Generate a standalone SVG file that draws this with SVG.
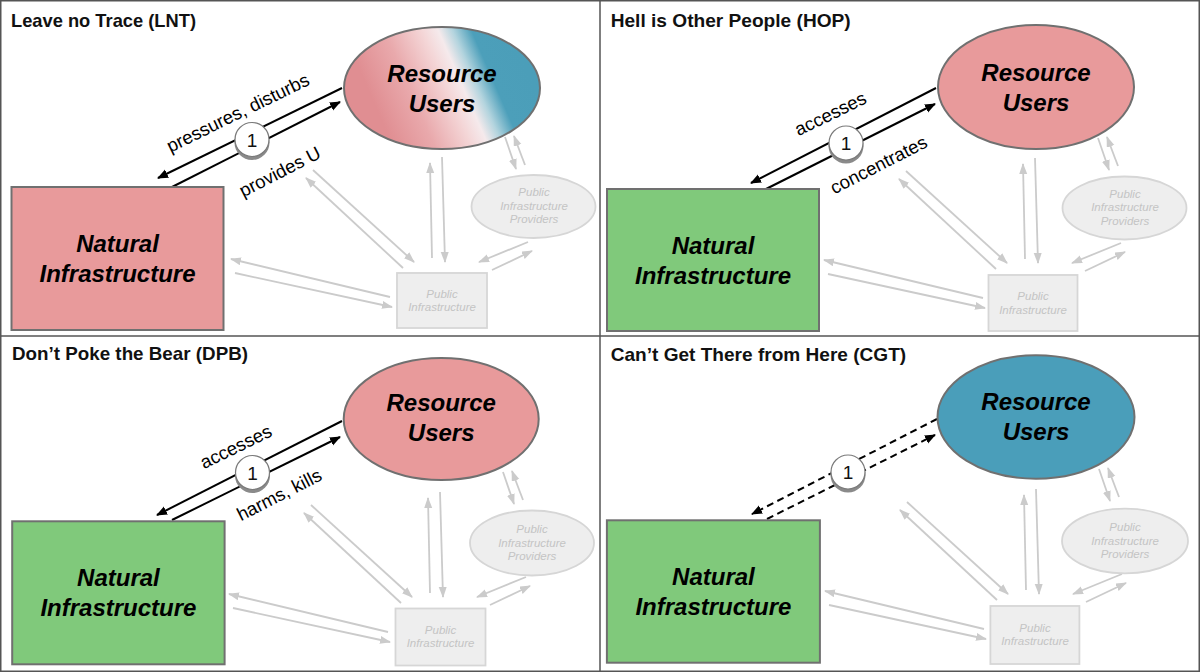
<svg xmlns="http://www.w3.org/2000/svg" width="1200" height="672" viewBox="0 0 1200 672">
<style>
.title{font-family:"Liberation Sans",Arial,sans-serif;font-weight:bold;font-size:18.5px;fill:#111}
.nt{font-family:"Liberation Sans",Arial,sans-serif;font-weight:bold;font-style:italic;font-size:24px;text-anchor:middle;fill:#000}
.lbl{font-family:"Liberation Sans",Arial,sans-serif;font-size:18.5px;text-anchor:middle;fill:#000}
.one{font-family:"Liberation Sans",Arial,sans-serif;font-size:19px;text-anchor:middle;fill:#111}
.gt{font-family:"Liberation Sans",Arial,sans-serif;font-style:italic;font-size:11.5px;text-anchor:middle;fill:#c4c4c4}
.node{stroke:#707070;stroke-width:2}
.gnode{fill:#eeeeee;stroke:#d6d6d6;stroke-width:1.8}
.blk{stroke:#000;stroke-width:2;fill:none;marker-end:url(#ah)}
.dash{stroke-dasharray:7 4.5}
.gry{stroke:#cbcbcb;stroke-width:1.8;fill:none;marker-end:url(#gh)}
.pink{fill:#e89a9b}
.green{fill:#80c97b}
.blue{fill:#4a9eba}
.frame{stroke:#555;stroke-width:1.5;fill:none}
</style>
<defs>
<marker id="ah" markerUnits="userSpaceOnUse" markerWidth="12" markerHeight="10" refX="10" refY="4.5" orient="auto">
<path d="M0,0 L11,4.5 L0,9 z" fill="#000"/>
</marker>
<marker id="gh" markerUnits="userSpaceOnUse" markerWidth="12" markerHeight="9" refX="10" refY="4" orient="auto">
<path d="M0,0 L11,4 L0,8 z" fill="#cbcbcb"/>
</marker>
<linearGradient id="mixgrad" gradientUnits="userSpaceOnUse" x1="385" y1="128" x2="560" y2="52">
<stop offset="0" stop-color="#e08e92"/>
<stop offset="0.2" stop-color="#e9a9ac"/>
<stop offset="0.38" stop-color="#f4d6d7"/>
<stop offset="0.46" stop-color="#f5eaec"/>
<stop offset="0.53" stop-color="#b3d4de"/>
<stop offset="0.62" stop-color="#4c9fba"/>
<stop offset="1" stop-color="#4a9db8"/>
</linearGradient>
</defs>
<rect width="1200" height="672" fill="#fff"/>

<!-- ===== Panel LNT ===== -->
<g id="panel-lnt">
<text class="title" x="11" y="27" textLength="185" lengthAdjust="spacingAndGlyphs">Leave no Trace (LNT)</text>
<g id="lnt-connectors">
<path class="gry" d="M432,258 L430,163"/>
<path class="gry" d="M442,157 L445,262"/>
<path class="gry" d="M505,137 L516,169"/>
<path class="gry" d="M525,165 L514,136"/>
<path class="gry" d="M528,242 L479,262"/>
<path class="gry" d="M492,270 L532,251"/>
<path class="gry" d="M403,268 L306,178"/>
<path class="gry" d="M313,170 L414,262"/>
<path class="gry" d="M390,297 L231,259"/>
<path class="gry" d="M235,273 L392,307"/>
<path class="blk" d="M342,88 L158,178"/>
<path class="blk" d="M172,187 L340,102"/>
<text class="lbl" x="238" y="119" transform="rotate(-26 238 113)">pressures, disturbs</text>
<text class="lbl" x="280" y="178" transform="rotate(-27 280 172)">provides U</text>
</g>
<g id="lnt-badge">
<circle cx="252" cy="142.5" r="17.5" fill="#8a8a8a"/>
<circle cx="252" cy="139.5" r="17" fill="#fff" stroke="#7a7a7a" stroke-width="1.2"/>
<text class="one" x="252" y="146.5">1</text>
</g>
<g id="lnt-resource-users">
<ellipse class="node" cx="442" cy="88" rx="98" ry="61" fill="url(#mixgrad)"/>
<text class="nt" x="442" y="82">Resource</text>
<text class="nt" x="442" y="112">Users</text>
</g>
<g id="lnt-natural-infrastructure">
<rect class="node pink" x="11.5" y="187" width="212" height="143"/>
<text class="nt" x="117.5" y="252">Natural</text>
<text class="nt" x="117.5" y="282">Infrastructure</text>
</g>
<g id="lnt-providers">
<ellipse class="gnode" cx="533.5" cy="206.5" rx="62" ry="31.5"/>
<text class="gt" x="534" y="196">Public</text>
<text class="gt" x="534" y="209.5">Infrastructure</text>
<text class="gt" x="534" y="223">Providers</text>
</g>
<g id="lnt-public-infrastructure">
<rect class="gnode" x="397" y="273" width="90" height="55"/>
<text class="gt" x="442" y="297.5">Public</text>
<text class="gt" x="442" y="311">Infrastructure</text>
</g>
</g>

<!-- ===== Panel HOP ===== -->
<g id="panel-hop" transform="translate(593,1)">
<text class="title" x="17.7" y="25.7" textLength="240" lengthAdjust="spacingAndGlyphs">Hell is Other People (HOP)</text>
<g id="hop-connectors">
<path class="gry" d="M432,258 L430,163"/>
<path class="gry" d="M442,157 L445,262"/>
<path class="gry" d="M505,137 L516,169"/>
<path class="gry" d="M525,165 L514,136"/>
<path class="gry" d="M528,242 L479,262"/>
<path class="gry" d="M492,270 L532,251"/>
<path class="gry" d="M403,268 L306,178"/>
<path class="gry" d="M313,170 L414,262"/>
<path class="gry" d="M390,297 L231,259"/>
<path class="gry" d="M235,273 L392,307"/>
<path class="blk" d="M343,87 L158,182"/>
<path class="blk" d="M173,188 L342,103"/>
<text class="lbl" x="237.6" y="119" transform="rotate(-26 237.6 113)">accesses</text>
<text class="lbl" x="285.8" y="170" transform="rotate(-27 285.8 164)">concentrates</text>
</g>
<g id="hop-badge">
<circle cx="253" cy="145" r="17.5" fill="#8a8a8a"/>
<circle cx="253" cy="142" r="17" fill="#fff" stroke="#7a7a7a" stroke-width="1.2"/>
<text class="one" x="253" y="149">1</text>
</g>
<g id="hop-resource-users">
<ellipse class="node pink" cx="443" cy="86" rx="98" ry="62"/>
<text class="nt" x="443" y="80">Resource</text>
<text class="nt" x="443" y="110">Users</text>
</g>
<g id="hop-natural-infrastructure">
<rect class="node green" x="14" y="188" width="212" height="142"/>
<text class="nt" x="120" y="253">Natural</text>
<text class="nt" x="120" y="283">Infrastructure</text>
</g>
<g id="hop-providers">
<ellipse class="gnode" cx="531.5" cy="207" rx="62" ry="31.5"/>
<text class="gt" x="532" y="196.5">Public</text>
<text class="gt" x="532" y="210">Infrastructure</text>
<text class="gt" x="532" y="223.5">Providers</text>
</g>
<g id="hop-public-infrastructure">
<rect class="gnode" x="395.5" y="274" width="89" height="56"/>
<text class="gt" x="440" y="299">Public</text>
<text class="gt" x="440" y="312.5">Infrastructure</text>
</g>
</g>

<!-- ===== Panel DPB ===== -->
<g id="panel-dpb" transform="translate(0,333)">
<text class="title" x="12" y="27" textLength="236" lengthAdjust="spacingAndGlyphs">Don’t Poke the Bear (DPB)</text>
<g id="dpb-connectors">
<path class="gry" d="M430,260 L428,165"/>
<path class="gry" d="M440,159 L443,264"/>
<path class="gry" d="M503,139 L514,171"/>
<path class="gry" d="M523,167 L512,138"/>
<path class="gry" d="M526,244 L477,264"/>
<path class="gry" d="M490,272 L530,253"/>
<path class="gry" d="M401,270 L304,180"/>
<path class="gry" d="M311,172 L412,264"/>
<path class="gry" d="M388,299 L229,261"/>
<path class="gry" d="M233,275 L390,309"/>
<path class="blk" d="M342,88 L157,182"/>
<path class="blk" d="M172,187 L340,104"/>
<text class="lbl" x="236" y="120" transform="rotate(-26 236 114)">accesses</text>
<text class="lbl" x="279.4" y="168" transform="rotate(-27 279.4 162)">harms, kills</text>
</g>
<g id="dpb-badge">
<circle cx="252.5" cy="142.5" r="17.5" fill="#8a8a8a"/>
<circle cx="252.5" cy="139.5" r="17" fill="#fff" stroke="#7a7a7a" stroke-width="1.2"/>
<text class="one" x="252.5" y="146.5">1</text>
</g>
<g id="dpb-resource-users">
<ellipse class="node pink" cx="441.2" cy="86" rx="97.5" ry="61"/>
<text class="nt" x="441.2" y="78">Resource</text>
<text class="nt" x="441.2" y="108">Users</text>
</g>
<g id="dpb-natural-infrastructure">
<rect class="node green" x="12.2" y="188.3" width="212.4" height="143"/>
<text class="nt" x="118.4" y="253">Natural</text>
<text class="nt" x="118.4" y="283">Infrastructure</text>
</g>
<g id="dpb-providers">
<ellipse class="gnode" cx="532" cy="210" rx="62" ry="32.5"/>
<text class="gt" x="532" y="200">Public</text>
<text class="gt" x="532" y="213.5">Infrastructure</text>
<text class="gt" x="532" y="227">Providers</text>
</g>
<g id="dpb-public-infrastructure">
<rect class="gnode" x="395.5" y="275.5" width="90" height="57"/>
<text class="gt" x="440.5" y="300.5">Public</text>
<text class="gt" x="440.5" y="314">Infrastructure</text>
</g>
</g>

<!-- ===== Panel CGT ===== -->
<g id="panel-cgt" transform="translate(594,332)">
<text class="title" x="16.7" y="28.5" textLength="295.5" lengthAdjust="spacingAndGlyphs">Can’t Get There from Here (CGT)</text>
<g id="cgt-connectors">
<path class="gry" d="M432,258 L430,163"/>
<path class="gry" d="M442,157 L445,262"/>
<path class="gry" d="M505,137 L516,169"/>
<path class="gry" d="M525,165 L514,136"/>
<path class="gry" d="M528,242 L479,262"/>
<path class="gry" d="M492,270 L532,251"/>
<path class="gry" d="M403,268 L306,178"/>
<path class="gry" d="M313,170 L414,262"/>
<path class="gry" d="M390,297 L231,259"/>
<path class="gry" d="M235,273 L392,307"/>
<path class="blk dash" d="M343,87 L158,182"/>
<path class="blk dash" d="M173,187 L341,103"/>
</g>
<g id="cgt-badge">
<circle cx="254" cy="143" r="17.5" fill="#8a8a8a"/>
<circle cx="254" cy="140" r="17" fill="#fff" stroke="#7a7a7a" stroke-width="1.2"/>
<text class="one" x="254" y="147">1</text>
</g>
<g id="cgt-resource-users">
<ellipse class="node blue" cx="442" cy="85" rx="98.5" ry="61.7"/>
<text class="nt" x="442" y="78">Resource</text>
<text class="nt" x="442" y="108">Users</text>
</g>
<g id="cgt-natural-infrastructure">
<rect class="node green" x="12.9" y="188.3" width="213" height="142.4"/>
<text class="nt" x="119.4" y="253">Natural</text>
<text class="nt" x="119.4" y="283">Infrastructure</text>
</g>
<g id="cgt-providers">
<ellipse class="gnode" cx="531" cy="209" rx="63" ry="32.3"/>
<text class="gt" x="531" y="199">Public</text>
<text class="gt" x="531" y="212.5">Infrastructure</text>
<text class="gt" x="531" y="226">Providers</text>
</g>
<g id="cgt-public-infrastructure">
<rect class="gnode" x="396.4" y="274" width="89" height="58"/>
<text class="gt" x="441" y="299.5">Public</text>
<text class="gt" x="441" y="313">Infrastructure</text>
</g>
</g>

<!-- frame -->
<g id="frame">
<rect class="frame" x="0.75" y="0.75" width="1198.5" height="670.5"/>
<line class="frame" x1="600" y1="0" x2="600" y2="672"/>
<line class="frame" x1="0" y1="336" x2="1200" y2="336"/>
</g>
</svg>
